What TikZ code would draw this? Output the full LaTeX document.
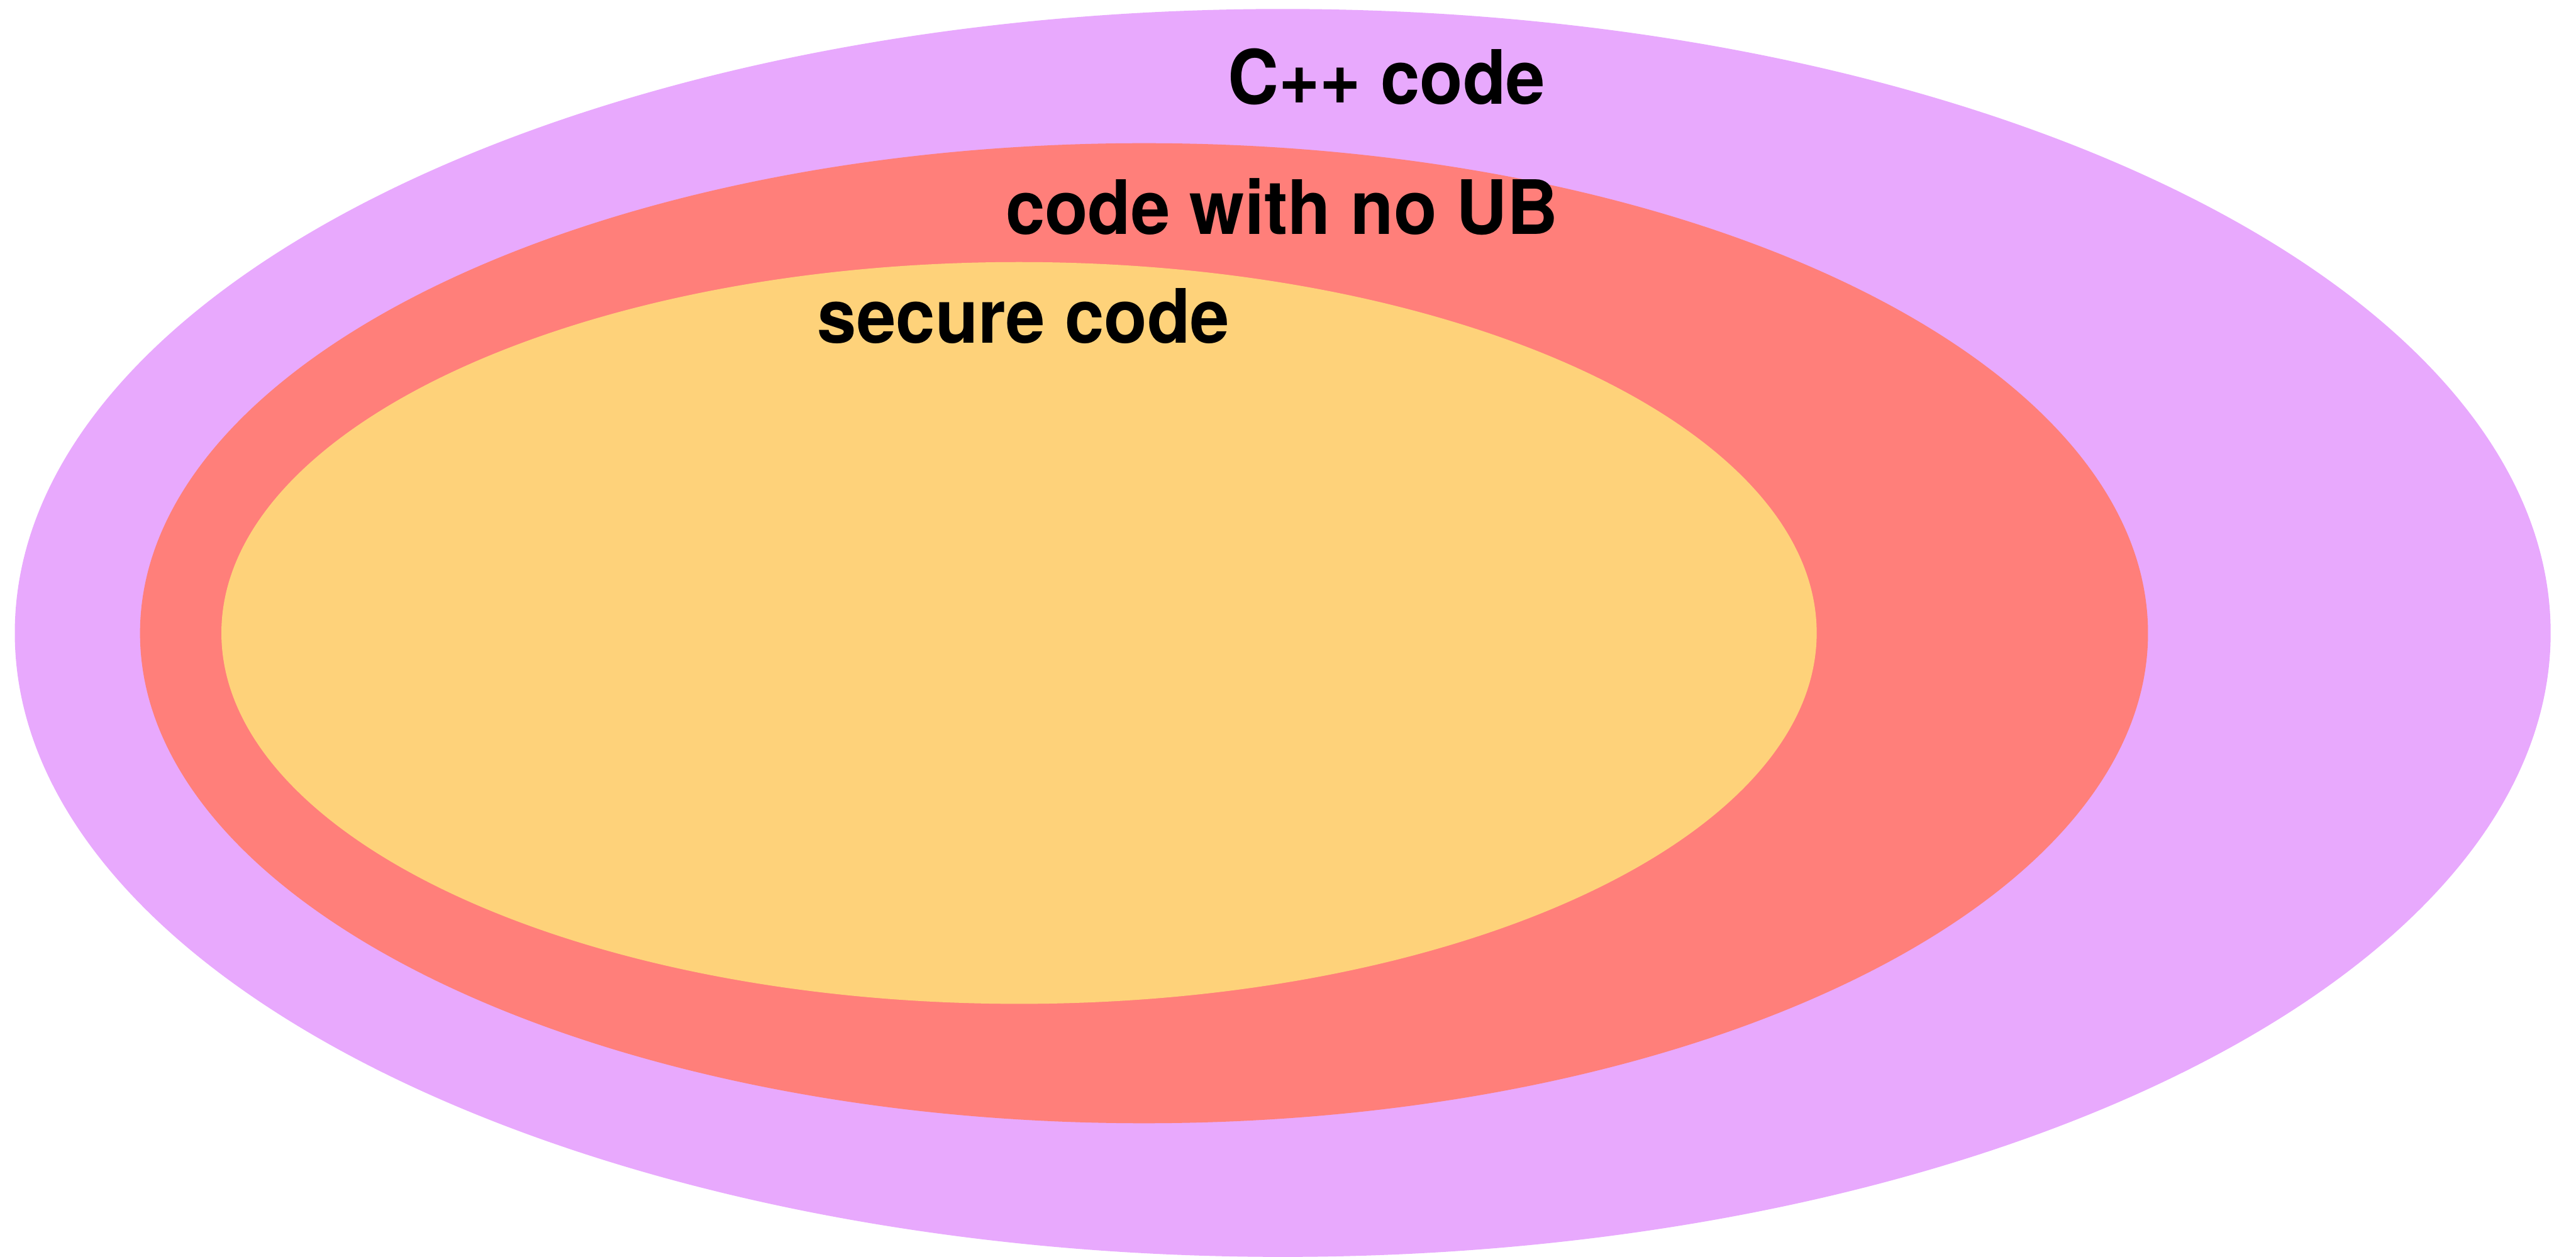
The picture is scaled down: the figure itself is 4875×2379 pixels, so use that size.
\documentclass[tikz,border=0pt]{standalone}
\usepackage{fontspec}
\usepackage{graphicx}
\setmainfont{TeX Gyre Heros}
\definecolor{cppfill}{HTML}{E8A9FD}
\definecolor{noubfill}{HTML}{FF7F7A}
\definecolor{securefill}{HTML}{FED27A}
\newcommand{\narrowlabel}[1]{\scalebox{0.94}[1]{#1}}
\begin{document}
\begin{tikzpicture}[x=1pt,y=-1pt,
  setlabel/.style={anchor=base,inner sep=0pt,text=black,
    font=\fontsize{142}{142}\selectfont\bfseries}]
  \useasboundingbox (0,0) rectangle (4875,2379);
  % nested sets
  \fill[cppfill]    (2427.5,1198) ellipse (2399.5pt and 1181pt);
  \fill[noubfill]   (2165,1198.5) ellipse (1900pt and 927.5pt);
  \fill[securefill] (1928.5,1198) ellipse (1509.5pt and 702pt);
  % set labels
  \node[setlabel] (cpp)    at (2624,197) {\narrowlabel{C++ code}};
  \node[setlabel] (noub)   at (2426,443) {\narrowlabel{code with no UB}};
  \node[setlabel] (secure) at (1937,649) {\narrowlabel{secure code}};
\end{tikzpicture}
\end{document}
